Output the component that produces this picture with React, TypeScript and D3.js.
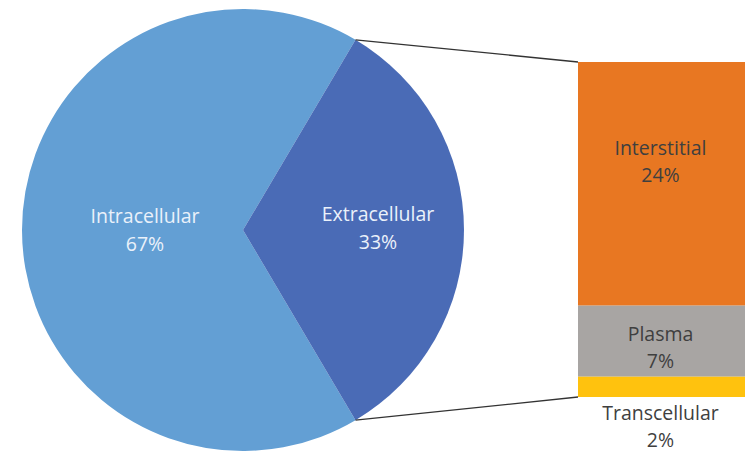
import React from "react";
import * as d3 from "d3";

const pieNames = ["Intracellular", "Extracellular"];
const pieValues = [67, 33];
const pieColors = ["#639FD4", "#4A6BB6"];

const barNames = ["Interstitial", "Plasma", "Transcellular"];
const barValues = [24, 7, 2];
const barColors = ["#E87722", "#A8A5A3", "#FFC20E"];

const W = 748;
const H = 454;
const cx = 243;
const cy = 230;
const R = 221;
const barX = 578;
const barW = 167;
const barTop = 62;
const barBottom = 397;
const font = "'Open Sans', 'Noto Sans', sans-serif";

const App = () => {
  // the exploded slice is centred at 3 o'clock
  const half = (pieValues[1] / d3.sum(pieValues)) * Math.PI;
  const start = Math.PI / 2 + half;
  const createPie = d3
    .pie<number>()
    .sort(null)
    .startAngle(start)
    .endAngle(start + 2 * Math.PI);
  const arcs = createPie(pieValues);
  const createArc = d3.arc<any>().innerRadius(0).outerRadius(R);

  const y = d3
    .scaleLinear()
    .domain([0, d3.sum(barValues)])
    .range([barTop, barBottom]);
  let acc = 0;
  const segs = barValues.map((v, i) => {
    const s = { name: barNames[i], v, y0: y(acc), y1: y(acc + v), color: barColors[i] };
    acc += v;
    return s;
  });

  // ends of the extracellular slice
  const ex = arcs[1];
  const pt = (a: number) => [cx + R * Math.sin(a), cy - R * Math.cos(a)];
  const [tx, ty] = pt(ex.startAngle);
  const [bx, by] = pt(ex.endAngle);

  const pieLabelPos = [
    [145, 223],
    [378, 221],
  ];

  return (
    <svg width={W} height={H} style={{ position: "absolute", left: 0, top: 0 }}>
      <rect width={W} height={H} fill="#fff" />
      <g transform={`translate(${cx},${cy})`}>
        {arcs.map((a, i) => (
          <path key={i} d={createArc(a) as string} fill={pieColors[i]} />
        ))}
      </g>
      {pieNames.map((n, i) => (
        <text
          key={n}
          x={pieLabelPos[i][0]}
          y={pieLabelPos[i][1]}
          textAnchor="middle"
          fill="#EAF1FA"
          fontFamily={font}
          fontSize={19.5}
        >
          <tspan x={pieLabelPos[i][0]}>{n}</tspan>
          <tspan x={pieLabelPos[i][0]} dy={28}>
            {pieValues[i]}%
          </tspan>
        </text>
      ))}
      <line x1={tx} y1={ty} x2={barX} y2={barTop} stroke="#333" strokeWidth={1.3} />
      <line x1={bx} y1={by} x2={barX} y2={barBottom} stroke="#333" strokeWidth={1.3} />
      {segs.map((s) => (
        <rect key={s.name} x={barX} y={s.y0} width={barW} height={s.y1 - s.y0} fill={s.color} />
      ))}
      {segs.map((s, i) => {
        const lx = barX + barW / 2 - 1;
        const ly = i === 2 ? s.y1 + 23 : i === 0 ? 155 : (s.y0 + s.y1) / 2;
        return (
          <text
            key={s.name}
            x={lx}
            y={ly}
            textAnchor="middle"
            fill="#3F3F3F"
            fontFamily={font}
            fontSize={19.5}
          >
            <tspan x={lx}>{s.name}</tspan>
            <tspan x={lx} dy={27}>
              {s.v}%
            </tspan>
          </text>
        );
      })}
    </svg>
  );
};

export default App;
